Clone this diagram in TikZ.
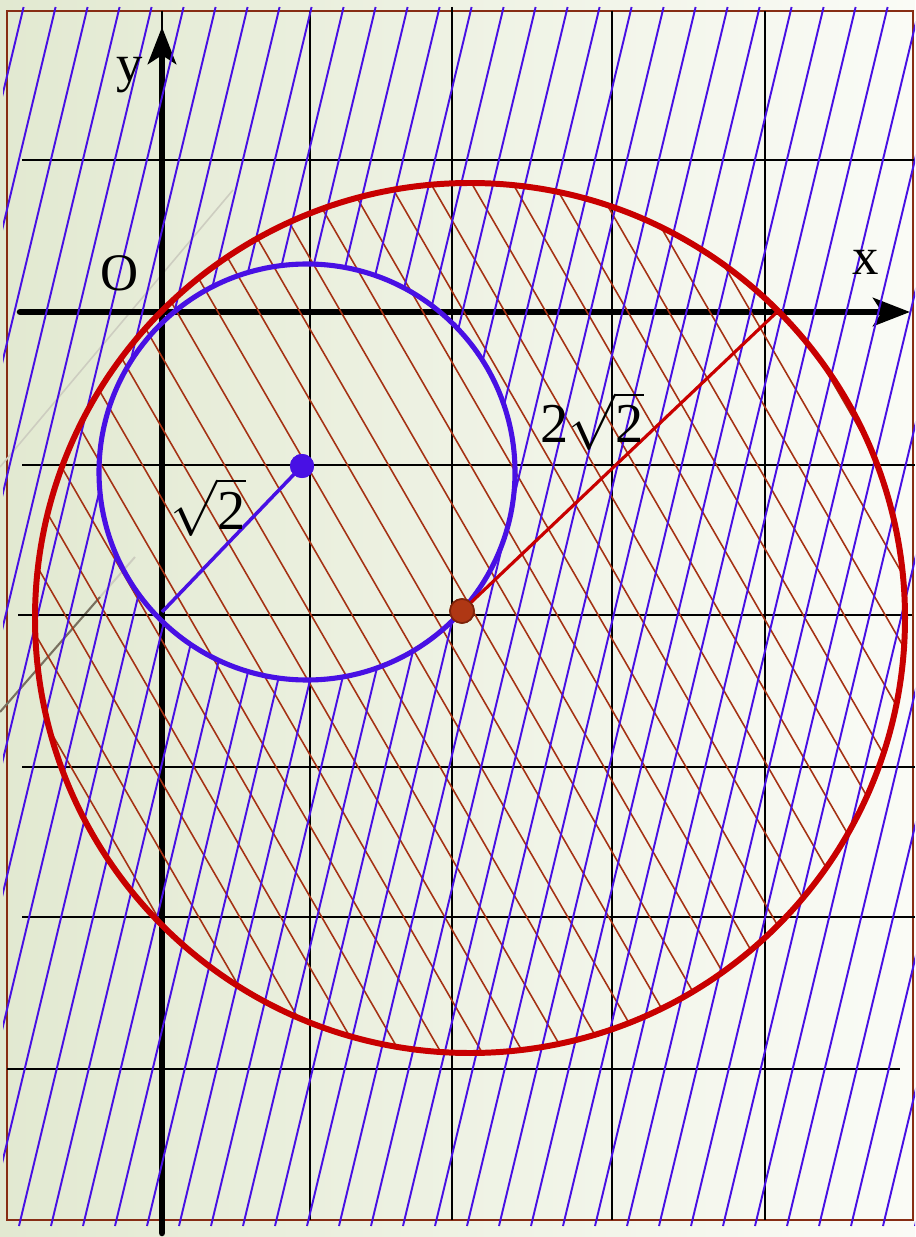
\RequirePackage{fix-cm}
\documentclass[tikz,border=0pt]{standalone}
\usepackage{fontspec}
\setmainfont{Liberation Serif}
\usetikzlibrary{arrows.meta}
\definecolor{bluev}{RGB}{72,16,228}
\definecolor{redc}{RGB}{200,0,0}
\definecolor{hatchred}{RGB}{165,50,20}
\definecolor{framebrown}{RGB}{135,45,20}
\definecolor{bgleft}{RGB}{226,233,209}
\definecolor{bgmid}{RGB}{240,243,231}
\definecolor{bgright}{RGB}{250,251,246}
\definecolor{greylight}{RGB}{205,205,192}
\definecolor{greydark}{RGB}{120,112,95}
\definecolor{dotfill}{RGB}{175,55,20}
\definecolor{dotedge}{RGB}{125,35,10}
\begin{document}
\begin{tikzpicture}[x=0.01cm,y=-0.01cm,
  gridline/.style={black,line width=0.6pt},
  axisline/.style={black,line width=1.85pt,line cap=round,-{Stealth[length=10.5pt,width=8pt,inset=2.5pt]}},
  bhatch/.style={bluev,line width=0.55pt},
  rhatch/.style={hatchred,line width=0.45pt},
  lbl/.style={anchor=base,inner sep=0pt,font=\fontsize{15}{18}\selectfont},
  rlbl/.style={anchor=base,inner sep=0pt,font=\fontsize{16}{19}\selectfont},
  dotb/.style={circle,fill=bluev,minimum size=0.24cm,inner sep=0pt},
  dotr/.style={circle,fill=dotfill,draw=dotedge,line width=0.45pt,minimum size=0.24cm,inner sep=0pt}
]
\useasboundingbox (0,0) rectangle (915,1237);
% background
\shade[left color=bgleft,middle color=bgmid,right color=bgright] (0,0) rectangle (915,1237);
% frame
\draw[framebrown,line width=0.6pt] (7,11) rectangle (913,1220);
% faint decorative lines
\draw[greylight,line width=0.45pt] (233,190) -- (0,467);
\draw[greylight,line width=0.55pt] (135,557) -- (100,597);
\draw[greydark,line width=0.6pt] (100,597) -- (0,712);
% grid
\draw[gridline] (162,11) -- (162,1220);
\draw[gridline] (310,11) -- (310,1220);
\draw[gridline] (452,7) -- (452,1220);
\draw[gridline] (612,11) -- (612,1220);
\draw[gridline] (765,11) -- (765,1220);
\draw[gridline] (22,160) -- (915,160);
\draw[gridline] (22,465) -- (915,465);
\draw[gridline] (18,615) -- (912,615);
\draw[gridline] (22,767) -- (915,767);
\draw[gridline] (22,917) -- (915,917);
\draw[gridline] (7,1069) -- (900,1069);
% axes
\coordinate (xs) at (20,312);
\coordinate (xe) at (910,312);
\coordinate (ys) at (162,1233);
\coordinate (ye) at (162,27);
\draw[axisline] (xs) -- (xe);
\draw[axisline] (ys) -- (ye);
% red hatching inside the red circle
\begin{scope}
  \clip (470,618) circle (435);
  \foreach \k in {-15,...,19} {
    \draw[rhatch] ({218+41*\k-500},-553) -- ({218+41*\k+500},1177);
  }
\end{scope}
% blue hatching outside the blue circle
\begin{scope}[even odd rule]
  \clip (3,7) -- (3,1226) -- (915,1226) -- (915,7) -- cycle (307,472) circle (208);
  \foreach \k in {-10,...,28} {
    \draw[bhatch] ({19+32*\k},1226) -- ({19+32*\k+292.6},7);
  }
\end{scope}
% circles
\draw[redc,line width=1.7pt] (470,618) circle (435);
\draw[bluev,line width=1.45pt] (307,472) circle (208);
% points and radii
\node[dotb] (P) at (302,466) {};
\coordinate (Q) at (162,612);
\node[dotr] (M) at (462,611) {};
\coordinate (A) at (777,312);
\draw[bluev,line width=1pt] (P.center) -- (Q);
\draw[redc,line width=0.9pt] (M.center) -- (A);
\node[dotb] at (P.center) {};
\node[dotr] at (M.center) {};
% labels
\node[lbl] (ylab) at (130,82) {y};
\node[lbl] (olab) at (120,291) {O};
\node[lbl] (xlab) at (866,275) {x};
\node[rlbl] (r1) at (208,529) {$\sqrt{\mbox{2}}$};
\node[rlbl] (r2) at (592,443) {2$\sqrt{\mbox{2}}$};
\end{tikzpicture}
\end{document}
